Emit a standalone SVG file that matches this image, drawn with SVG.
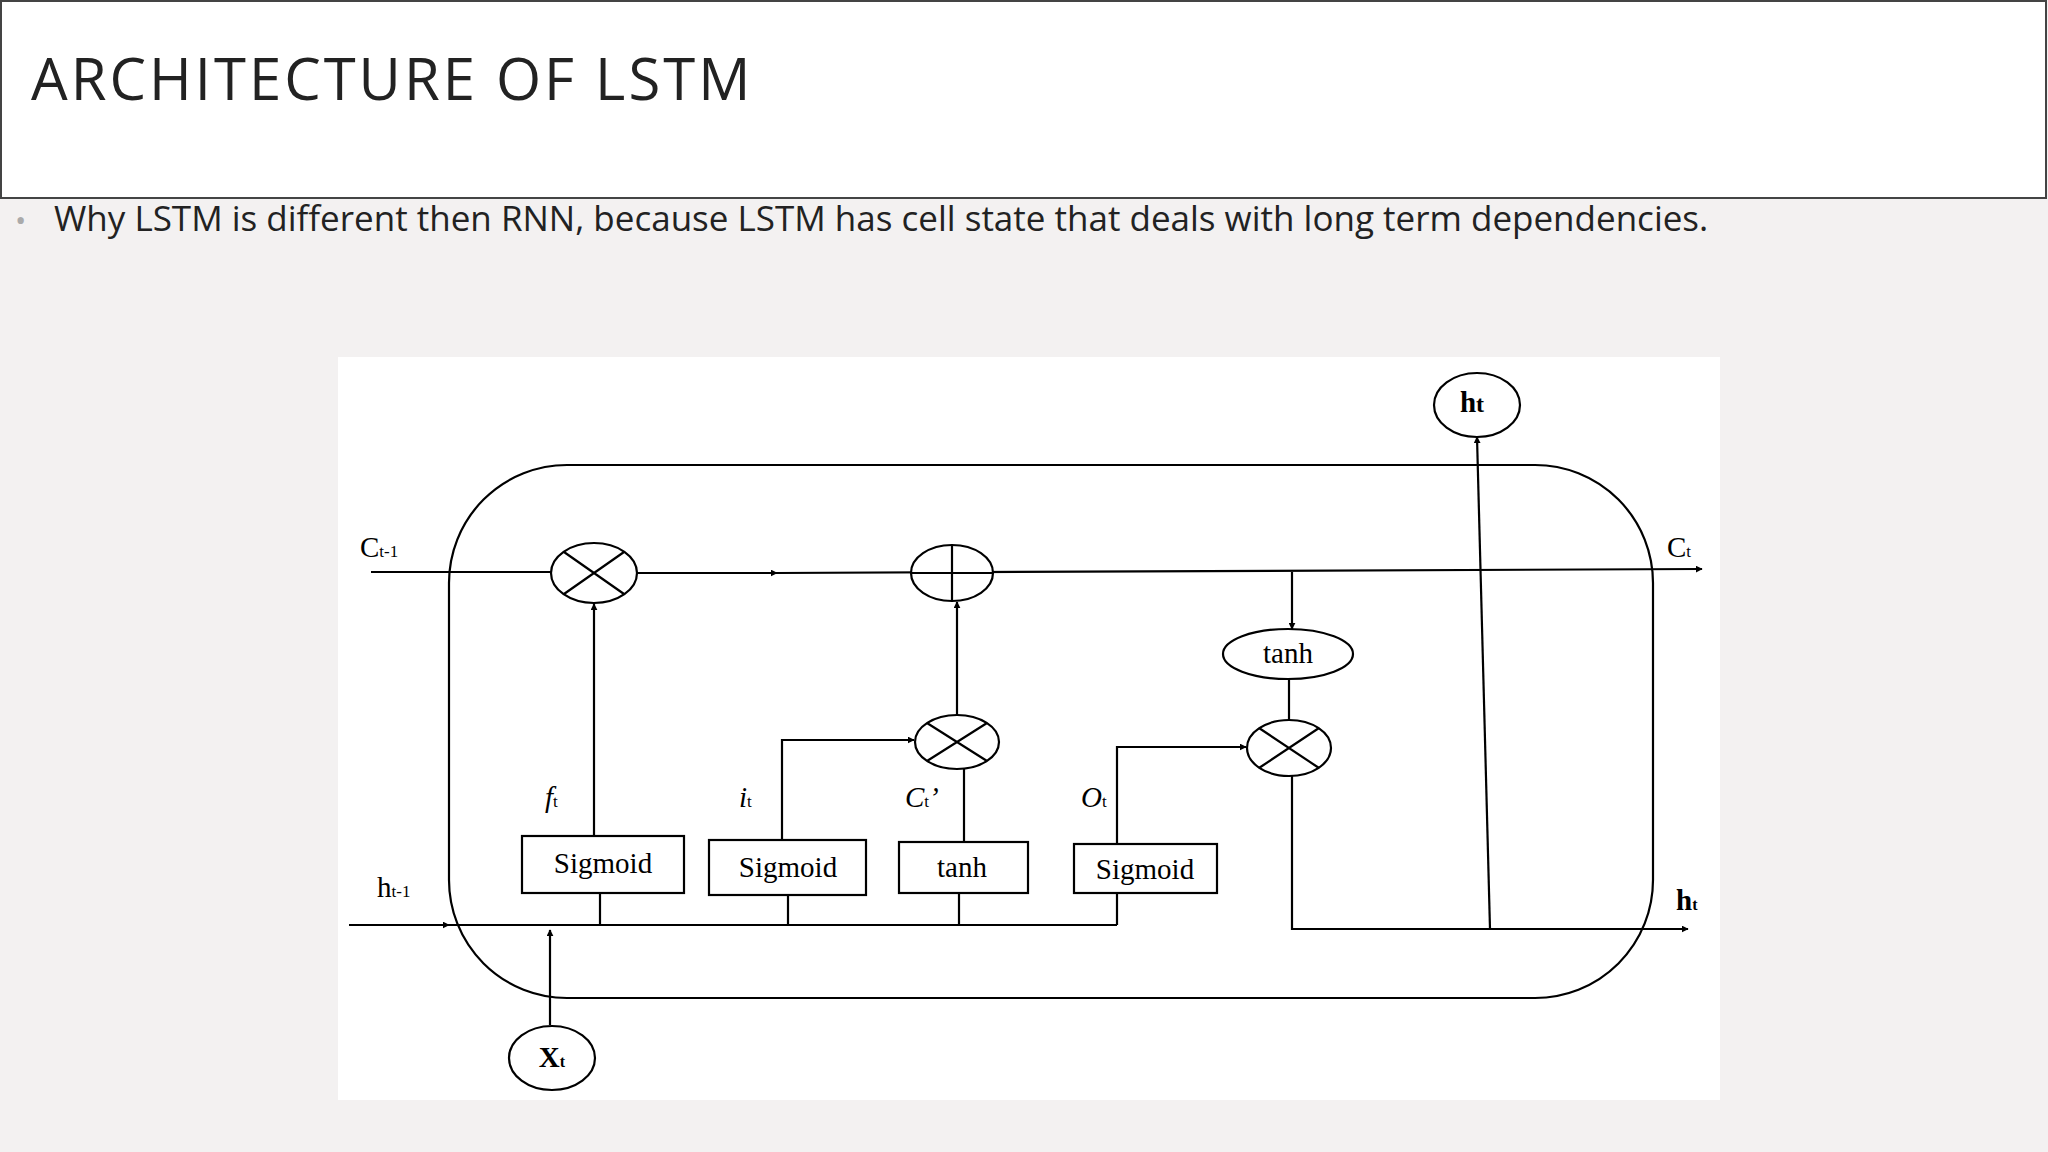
<svg xmlns="http://www.w3.org/2000/svg" width="2048" height="1152" viewBox="0 0 2048 1152">
<defs>
<marker id="a" viewBox="0 0 10 10" refX="9" refY="5" markerWidth="7" markerHeight="7" orient="auto" markerUnits="userSpaceOnUse"><path d="M0,0L10,5L0,10z" fill="#000"/></marker>
<style>
.l{fill:none;stroke:#000;stroke-width:2.2}
.n{fill:#fff;stroke:#000;stroke-width:2.2}
.t{font-family:"Liberation Serif",serif;font-size:29px;fill:#000}
.s{font-family:"Liberation Serif",serif;font-size:24px;fill:#000}
.i{font-style:italic}
</style>
</defs>
<rect width="2048" height="1152" fill="#f3f1f1"/>
<rect x="1" y="1" width="2045" height="197" fill="#fff" stroke="#444" stroke-width="2"/>
<text x="31" y="100" font-family="Open Sans,sans-serif" font-size="58" letter-spacing="3" fill="#222">ARCHITECTURE OF LSTM</text>
<text x="15" y="231" font-family="Open Sans,sans-serif" font-size="30" fill="#aaa">•</text>
<text x="54" y="231" font-family="Open Sans,sans-serif" font-size="35" fill="#222">Why LSTM is different then RNN, because LSTM has cell state that deals with long term dependencies.</text>
<rect x="338" y="357" width="1382" height="743" fill="#fff"/>
<rect id="cell" x="449" y="465" width="1204" height="533" rx="118" class="l"/>
<g id="connectors" class="l">
<path d="M371,572H449M449,572H551M637,573H777" marker-end="url(#a)"/>
<path d="M777,573L1702,569" marker-end="url(#a)"/>
<path d="M594,836V604" marker-end="url(#a)"/>
<path d="M957,715V602" marker-end="url(#a)"/>
<path d="M782,840V740H914" marker-end="url(#a)"/>
<path d="M964,842L964,769"/>
<path d="M1292,572V629" marker-end="url(#a)"/>
<path d="M1289,679V720"/>
<path d="M1117,893V747H1246" marker-end="url(#a)"/>
<path d="M1292,776V929H1688" marker-end="url(#a)"/>
<path d="M1490,929L1477,437" marker-end="url(#a)"/>
<path d="M349,925H449" marker-end="url(#a)"/>
<path d="M449,925H1117M600,893V925M788,895V925M959,893V925M1117,893V925"/>
<path d="M550,1025V930" marker-end="url(#a)"/>
</g>
<g id="mul1"><ellipse cx="594" cy="573" rx="43" ry="30" class="n"/><path class="l" d="M564,552L624,594M624,552L564,594"/></g>
<g id="plus"><ellipse cx="952" cy="573" rx="41" ry="28" class="n"/><path class="l" d="M911,573H993M952,545V601"/></g>
<g id="mul2"><ellipse cx="957" cy="742" rx="42" ry="27" class="n"/><path class="l" d="M927,723L987,761M987,723L927,761"/></g>
<g id="mul3"><ellipse cx="1289" cy="748" rx="42" ry="28" class="n"/><path class="l" d="M1259,728L1319,768M1319,728L1259,768"/></g>
<g id="tanh2"><ellipse cx="1288" cy="654" rx="65" ry="25" class="n"/><text x="1288" y="663" class="t" text-anchor="middle">tanh</text></g>
<g id="htop"><ellipse cx="1477" cy="405" rx="43" ry="32" class="n"/><text x="1472" y="412" class="t" font-weight="bold" text-anchor="middle">h<tspan class="s" font-size="16">t</tspan></text></g>
<g id="xt"><ellipse cx="552" cy="1058" rx="43" ry="32" class="n"/><text x="552" y="1067" class="t" font-weight="bold" text-anchor="middle">X<tspan font-size="16">t</tspan></text></g>
<g id="sig1"><rect x="522" y="836" width="162" height="57" class="n"/><text x="603" y="873" class="t" text-anchor="middle">Sigmoid</text></g>
<g id="sig2"><rect x="709" y="840" width="157" height="55" class="n"/><text x="788" y="877" class="t" text-anchor="middle">Sigmoid</text></g>
<g id="tanh1"><rect x="899" y="842" width="129" height="51" class="n"/><text x="962" y="877" class="t" text-anchor="middle">tanh</text></g>
<g id="sig3"><rect x="1074" y="844" width="143" height="49" class="n"/><text x="1145" y="879" class="t" text-anchor="middle">Sigmoid</text></g>
<g id="labels">
<text x="360" y="557" class="t">C<tspan font-size="17">t-1</tspan></text>
<text x="1667" y="557" class="t">C<tspan font-size="17">t</tspan></text>
<text x="377" y="897" class="t">h<tspan font-size="17">t-1</tspan></text>
<text x="1676" y="910" class="t" font-weight="bold">h<tspan font-size="16">t</tspan></text>
<text x="545" y="807" class="t i">f<tspan font-style="normal" font-size="17">t</tspan></text>
<text x="739" y="807" class="t i">i<tspan font-style="normal" font-size="17">t</tspan></text>
<text x="905" y="807" class="t i">C<tspan font-style="normal" font-size="17">t</tspan>’</text>
<text x="1081" y="807" class="t i">O<tspan font-style="normal" font-size="17">t</tspan></text>
</g>
</svg>
